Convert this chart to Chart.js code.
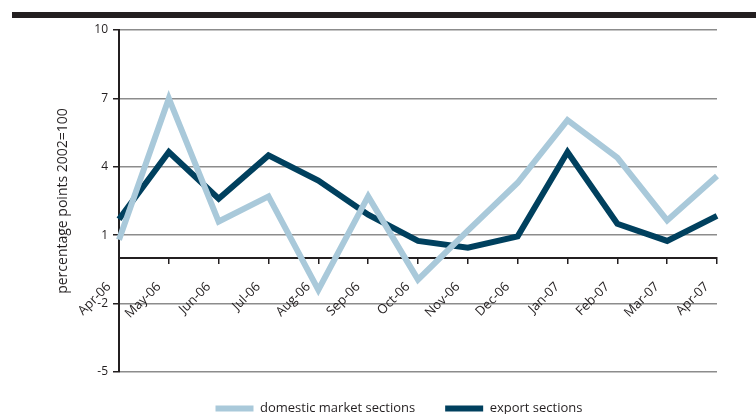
<!DOCTYPE html>
<html>
<head>
<meta charset="utf-8">
<script src="https://cdn.jsdelivr.net/npm/chart.js@4/dist/chart.umd.min.js"></script>
<style>
  html, body { margin: 0; padding: 0; background: #fff; overflow: hidden; }
  #wrap { position: relative; width: 756px; height: 425px; }
  #topBar { position: absolute; left: 12px; right: 0; top: 12px; height: 6px; background: #231f20; }
</style>
</head>
<body>
<div id="wrap">
  <div id="topBar"></div>
  <canvas id="chart" width="756" height="425"></canvas>
</div>
<script>
// ==================== DATA ====================
const months = ['Apr-06', 'May-06', 'Jun-06', 'Jul-06', 'Aug-06', 'Sep-06', 'Oct-06',
                'Nov-06', 'Dec-06', 'Jan-07', 'Feb-07', 'Mar-07', 'Apr-07'];
const domesticValues = [0.8, 7.0, 1.6, 2.7, -1.4, 2.7, -0.95, 1.2, 3.3, 6.05, 4.4, 1.65, 3.6];
const exportValues = [1.7, 4.65, 2.6, 4.5, 3.4, 1.9, 0.75, 0.45, 0.95, 4.65, 1.5, 0.75, 1.85];
const yTicks = [-5, -2, 1, 4, 7, 10];
const seriesNames = ['domestic market sections', 'export sections'];

const FONT = '"Open Sans", "DejaVu Sans", sans-serif';

// nudge the legend left so it sits where the original one does
const legendShift = {
  id: 'legendShift',
  afterLayout(chart) {
    if (chart.legend) {
      chart.legend.left -= 19;
      chart.legend.right -= 19;
    }
  }
};

const ctx = document.getElementById('chart').getContext('2d');
new Chart(ctx, {
  type: 'line',
  data: {
    labels: months,
    datasets: [
      {
        label: seriesNames[0],
        data: domesticValues,
        borderColor: '#a9c9da',
        backgroundColor: '#a9c9da',
        borderWidth: 6,
        pointRadius: 0,
        tension: 0
      },
      {
        label: seriesNames[1],
        data: exportValues,
        borderColor: '#00405e',
        backgroundColor: '#00405e',
        borderWidth: 6,
        pointRadius: 0,
        tension: 0
      }
    ]
  },
  options: {
    responsive: false,
    animation: false,
    layout: { padding: { top: 30, right: 39, left: 50, bottom: 0 } },
    plugins: {
      tooltip: { enabled: false },
      legend: {
        position: 'bottom',
        fullSize: false,
        labels: {
          color: '#231f20',
          font: { family: FONT, size: 13 },
          boxWidth: 38,
          boxHeight: 6,
          padding: 30,
          // flat swatches, no stroke around them
          generateLabels(chart) {
            return Chart.defaults.plugins.legend.labels.generateLabels(chart)
              .map(item => Object.assign(item, { lineWidth: 0 }));
          }
        }
      }
    },
    scales: {
      x: {
        type: 'category',
        position: { y: 0 },
        offset: false,
        grid: {
          drawOnChartArea: false,
          drawTicks: true,
          tickLength: 5,
          color: '#231f20',
          lineWidth: 1.5
        },
        border: { display: true, color: '#231f20', width: 2 },
        ticks: {
          color: '#231f20',
          font: { family: FONT, size: 13 },
          maxRotation: 45,
          minRotation: 45,
          autoSkip: false,
          padding: 16,
          labelOffset: -10
        }
      },
      y: {
        min: -5,
        max: 10,
        afterBuildTicks(scale) {
          scale.ticks = yTicks.map(v => ({ value: v }));
        },
        afterFit(scale) {
          scale.width = 69;
        },
        grid: {
          color: '#8c8c8c',
          lineWidth: 1.5,
          tickColor: '#231f20',
          tickLength: 6
        },
        border: { display: true, color: '#231f20', width: 2 },
        ticks: {
          color: '#231f20',
          font: { family: FONT, size: 12 },
          padding: 5
        },
        title: {
          display: true,
          text: 'percentage points 2002=100',
          color: '#231f20',
          font: { family: FONT, size: 14 },
          padding: { top: 5, bottom: 0 }
        }
      }
    }
  },
  plugins: [legendShift]
});
</script>
</body>
</html>
